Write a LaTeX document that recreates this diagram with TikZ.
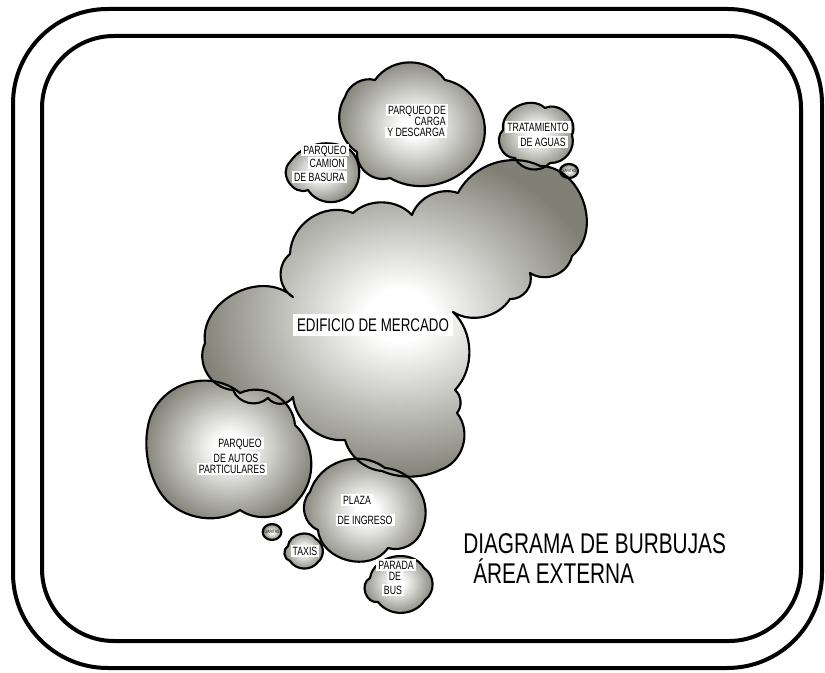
\documentclass[tikz,border=0pt]{standalone}
\usepackage{fontspec}
\setmainfont{Liberation Sans}[FakeStretch=0.73]
\definecolor{cloudgray}{RGB}{128,128,118}
\pgfdeclareradialshading{cloudsh}{\pgfpoint{0bp}{0bp}}{color(0bp)=(white); color(4bp)=(white); color(25bp)=(cloudgray); color(50bp)=(cloudgray)}
\tikzset{
  b0/.style={bend left=25, looseness=0.85},
  b1/.style={bend left=35, looseness=0.9},
  b2/.style={bend left=45, looseness=0.95},
  b3/.style={bend left=55, looseness=1.05},
  b4/.style={bend left=70, looseness=1.1},
  b5/.style={bend left=80, looseness=1.25},
  cfill/.style={shading=cloudsh},
  cline/.style={draw=black, line width=1.6pt, line join=round},
  frame/.style={draw=black, line width=3pt},
  lab/.style={fill=white, inner xsep=1.5pt, inner ysep=1pt, text height=6.5pt, text depth=0pt, font=\fontsize{9}{10}\selectfont},
  biglab/.style={fill=white, inner xsep=3pt, inner ysep=3pt, text height=9.9pt, text depth=0pt, font=\fontsize{13.7}{15}\selectfont},
  tinylab/.style={inner sep=0pt, font=\fontsize{3.5}{4}\selectfont},
  titlelab/.style={anchor=base west, inner sep=0pt, font=\fontsize{21.4}{24}\selectfont}
}
\def\pEdif{(233,390) to[b3] (205,343) to[b4] (293,297) to[b3] (290,254) to[b3] (353,213) to[b2] (412,215) to[b2] (458,193) to[b2] (540,166) to[b4] (572,256) to[b3] (530,273) to[b3] (510,299) to[b2] (453,312) to[b2] (455,390) to[b2] (457,413) to[b3] (440,470) to[b0] (382,471) to[b1] (345,440) to[b2] (293,397) to[b3] (268,398) to[b3] (233,390) -- cycle}
\def\pCarga{(357,152) to[b2] (345,97) to[b2] (375,80) to[b3] (445,80) to[b3] (478,155) to[b2] (390,178) to[b3] (357,152) -- cycle}
\def\pBasura{(290,162) to[b2] (350,150) to[b2] (352,192) to[b3] (308,190) to[b5] (290,162) -- cycle}
\def\pTrat{(503,130) to[b4] (545,108) to[b4] (572,135) to[b3] (550,163) to[b3] (515,158) to[b4] (503,130) -- cycle}
\def\pAutos{(160,492) to[b0] (150,418) to[b3] (240,393) to[b3] (295,425) to[b2] (298,500) to[b2] (240,510) to[b2] (160,492) -- cycle}
\def\pPlaza{(310,492) to[b3] (385,468) to[b3] (422,530) to[b2] (388,548) to[b4] (318,530) to[b3] (310,492) -- cycle}
\def\pTaxis{(288,546) to[b4] (316,539) to[b3] (318,562) to[b3] (290,561) to[b4] (288,546) -- cycle}
\def\pBus{(370,578) to[b4] (424,568) to[b3] (425,600) to[b3] (378,602) to[b5] (370,578) -- cycle}
\def\pGarA{(569,171) ellipse (6.75pt and 5.25pt)}
\def\pGarB{(272,532) ellipse (7pt and 6pt)}
\begin{document}
\begin{tikzpicture}[x=0.75pt, y=-0.75pt]
\useasboundingbox (0,0) rectangle (825,673);
% frames
\draw[frame, rounded corners=71pt] (13,9) rectangle (822,668);
\draw[frame, rounded corners=54pt] (42,36) rectangle (801,641);
% cloud fills
\shade[cfill] \pEdif;
\shade[cfill] \pCarga;
\shade[cfill] \pBasura;
\shade[cfill] \pTrat;
\shade[cfill] \pAutos;
\shade[cfill] \pPlaza;
\shade[cfill] \pTaxis;
\shade[cfill] \pBus;
\shade[cfill] \pGarA;
\shade[cfill] \pGarB;
% cloud outlines
\draw[cline] \pEdif;
\draw[cline] \pCarga;
\draw[cline] \pBasura;
\draw[cline] \pTrat;
\draw[cline] \pAutos;
\draw[cline] \pPlaza;
\draw[cline] \pTaxis;
\draw[cline] \pBus;
\draw[cline] \pGarA;
\draw[cline] \pGarB;
% labels
\node[lab] (carga1) at (417,110) {PARQUEO DE};
\node[lab, anchor=east] (carga2) at (448,121.5) {CARGA};
\node[lab, anchor=west] (carga3) at (385,132.5) {Y DESCARGA};
\node[lab] (bas1) at (325,150) {PARQUEO};
\node[lab, anchor=east] (bas2) at (347,163) {CAMION};
\node[lab, anchor=east] (bas3) at (347,177) {DE BASURA};
\node[lab] (trat1) at (538,127) {TRATAMIENTO};
\node[lab] (trat2) at (543,142) {DE AGUAS};
\node[tinylab] (gar1) at (569,171) {GARITAS};
\node[tinylab] (gar2) at (272,532) {GARITAS};
\node[biglab] (edif) at (373,325) {EDIFICIO DE MERCADO};
\node[lab] (aut1) at (240,443) {PARQUEO};
\node[lab] (aut2) at (236,458) {DE AUTOS};
\node[lab] (aut3) at (232,469) {PARTICULARES};
\node[lab] (pla1) at (357,500) {PLAZA};
\node[lab] (pla2) at (365,520) {DE INGRESO};
\node[lab] (taxi) at (305,551) {TAXIS};
\node[lab] (bus1) at (396,565) {PARADA};
\node[lab] (bus2) at (395,576) {DE};
\node[lab] (bus3) at (393,590) {BUS};
\node[titlelab] (tit1) at (463,553) {DIAGRAMA DE BURBUJAS};
\node[titlelab] (tit2) at (473,583) {ÁREA EXTERNA};
\end{tikzpicture}
\end{document}
